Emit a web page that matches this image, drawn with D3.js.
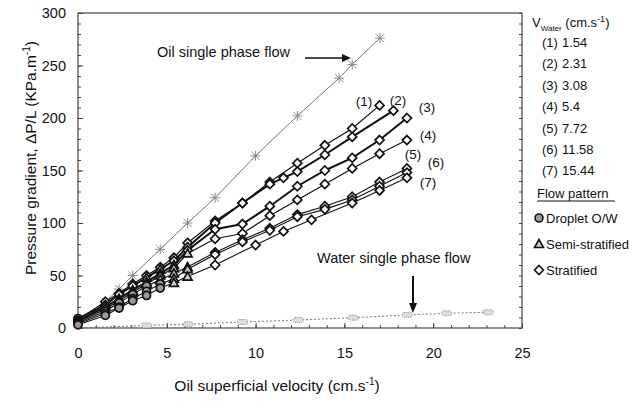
<!DOCTYPE html>
<html><head><meta charset="utf-8">
<script src="https://cdn.jsdelivr.net/npm/d3@7"></script>
<style>
body{margin:0;background:#fff;}
svg{font-family:"Liberation Sans",Arial,sans-serif;}
</style></head>
<body><svg id="chart" width="643" height="401"></svg>
<script>
// ---------- data ----------
const waterVelocities = ["1.54","2.31","3.08","5.4","7.72","11.58","15.44"];
const seriesLabels = ["(1)","(2)","(3)","(4)","(5)","(6)","(7)"];
// oil superficial velocity (cm/s) for each series
const s1x = [0,1.54,2.31,3.08,3.86,4.63,5.4,6.17,7.72,9.26,10.8,12.35,13.9,15.44,16.98];
const s1y = [8,25,33,42,50,58,67,81,102,119,139,157,174,190,212];
const s1p = ["c","d","d","d","d","d","d","d","d","d","d","d","d","d","d"];
const s2x = [0,1.54,2.31,3.08,3.86,4.63,5.4,6.17,7.72,9.26,10.8,11.57,12.35,13.9,15.44,17.76];
const s2y = [9,22,32,40,48,56,64,77,100,119,137,143,149,165,182,207];
const s2p = ["c","d","d","d","t","t","d","d","d","d","d","d","d","d","d","d"];
const s3x = [0,1.54,2.31,3.08,3.86,4.63,5.4,6.17,7.72,9.26,10.8,12.35,13.9,15.44,16.98,18.52];
const s3y = [7,20,28,36,44,52,60,74,94,99,116,135,150,162,179,200];
const s3p = ["c","d","t","t","t","t","t","d","d","d","d","d","d","d","d","d"];
const s4x = [0,1.54,2.31,3.08,3.86,4.63,5.4,6.17,7.72,9.26,10.8,12.35,13.9,15.44,16.98,18.52];
const s4y = [6,18,26,34,42,50,57,71,85,90,107,122,137,152,166,179];
const s4p = ["c","d","t","t","t","t","t","t","d","d","d","d","d","d","d","d"];
const s5x = [0,1.54,2.31,3.08,3.86,4.63,5.4,6.17,7.72,9.26,10.8,12.35,13.9,15.44,16.98,18.52];
const s5y = [5,16,24,32,40,46,52,58,72,84,95,108,116,125,139,152];
const s5p = ["c","c","c","c","c","t","t","t","d","d","d","d","d","d","d","d"];
const s6x = [0,1.54,2.31,3.08,3.86,4.63,5.4,6.17,7.72,9.26,10.8,12.35,13.9,15.44,16.98,18.52];
const s6y = [4,14,20,28,35,42,47,56,70,82,93,106,113,122,135,148];
const s6p = ["c","c","c","c","c","c","t","t","d","d","d","d","d","d","d","d"];
const s7x = [0,1.54,2.31,3.08,3.86,4.63,5.4,6.17,7.72,10.0,11.57,13.15,15.44,16.98,18.52];
const s7y = [3,12,19,26,31,38,43,49,60,79,92,103,119,131,143];
const s7p = ["c","c","c","c","c","c","t","t","d","d","d","d","d","d","d"];
// single phase reference lines
const oilX = [0,1.54,2.31,3.08,4.63,6.17,7.72,10.0,12.35,14.7,15.44,17.0];
const oilY = [2,25,37,50,75,100,124,164,202,238,251,276];
const waterX = [0,3.87,6.2,9.27,12.4,15.5,18.54,20.76,23.1];
const waterY = [0,2.5,3.5,5.7,7.6,9.8,12.4,14,15];
const xTicks = [0,5,10,15,20,25];
const yTicks = [0,50,100,150,200,250,300];
const patternNames = ["Droplet O/W","Semi-stratified","Stratified"];

const seriesX=[s1x,s2x,s3x,s4x,s5x,s6x,s7x];
const seriesY=[s1y,s2y,s3y,s4y,s5y,s6y,s7y];
const seriesP=[s1p,s2p,s3p,s4p,s5p,s6p,s7p];
const seriesW=[1.2,2,2,1.2,1.1,1.1,1.1];

// ---------- layout ----------
const svg=d3.select("#chart");
const L=78,R=522,T=13,B=328;
const x=d3.scaleLinear().domain([0,25]).range([L,R]);
const y=d3.scaleLinear().domain([0,300]).range([B,T]);

svg.append("rect").attr("x",L).attr("y",T).attr("width",R-L).attr("height",B-T)
  .attr("fill","none").attr("stroke","#444").attr("stroke-width",1.2);

const gx=svg.append("g").attr("transform",`translate(0,${B})`)
  .call(d3.axisBottom(x).tickValues(d3.range(0,26,1)).tickSize(-3).tickFormat(""));
const gxm=svg.append("g").attr("transform",`translate(0,${B})`)
  .call(d3.axisBottom(x).tickValues(xTicks).tickSize(-5).tickPadding(20).tickFormat(d3.format("d")));
const gy=svg.append("g").attr("transform",`translate(${L},0)`)
  .call(d3.axisLeft(y).tickValues(d3.range(0,301,10)).tickSize(-3).tickFormat(""));
const gym=svg.append("g").attr("transform",`translate(${L},0)`)
  .call(d3.axisLeft(y).tickValues(yTicks).tickSize(-5).tickPadding(12).tickFormat(d3.format("d")));
const gyr=svg.append("g").attr("transform",`translate(${R},0)`)
  .call(d3.axisRight(y).tickValues(d3.range(0,301,10)).tickSize(-3).tickFormat(""));
[gx,gxm,gy,gym,gyr].forEach(g=>{
  g.select(".domain").remove();
  g.selectAll("line").attr("stroke","#444");
  g.selectAll("text").attr("font-size",14.5).attr("fill","#111").attr("font-family","Liberation Sans, Arial, sans-serif");
});

svg.append("text").attr("x",277).attr("y",391).attr("text-anchor","middle").attr("font-size",15.5).attr("fill","#111")
  .html('Oil superficial velocity (cm.s<tspan dy="-6" font-size="10">-1</tspan><tspan dy="6">)</tspan>');
svg.append("text").attr("transform","translate(36,158) rotate(-90)").attr("text-anchor","middle").attr("font-size",15.5).attr("fill","#111")
  .html('Pressure gradient, ΔP/L (KPa.m<tspan dy="-6" font-size="10">-1</tspan><tspan dy="6">)</tspan>');

// water single phase line
const line=d3.line().x(d=>x(d[0])).y(d=>y(d[1]));
const wData=waterX.map((v,i)=>[v,waterY[i]]);
svg.append("path").attr("d",line(wData)).attr("fill","none").attr("stroke","#777").attr("stroke-width",1).attr("stroke-dasharray","2,2");
svg.append("g").selectAll("rect").data(wData.slice(1)).join("rect")
  .attr("x",d=>x(d[0])-5).attr("y",d=>y(d[1])-2.5).attr("width",10).attr("height",5).attr("rx",2)
  .attr("fill","#ddd").attr("stroke","#777").attr("stroke-width",0.8).attr("stroke-dasharray","1,1");

// oil single phase line
const oData=oilX.map((v,i)=>[v,oilY[i]]);
svg.append("path").attr("d",line(oData)).attr("fill","none").attr("stroke","#777").attr("stroke-width",1);
const star=svg.append("g").selectAll("g").data(oData.slice(1)).join("g")
  .attr("transform",d=>`translate(${x(d[0])},${y(d[1])})`);
star.append("path").attr("d","M-4,-4L4,4M-4,4L4,-4M0,-5L0,5M-5,0L5,0").attr("stroke","#888").attr("stroke-width",1);

// marker shapes
const sym={c:()=>"M4,0A4,4 0 1,1 -4,0A4,4 0 1,1 4,0Z",
           t:()=>"M0,-4.5L4.5,3.5L-4.5,3.5Z",
           d:()=>"M0,-4.5L4.5,0L0,4.5L-4.5,0Z"};
const fillOf=p=>p==="c"?"#999":(p==="t"?"#ccc":"#fff");
seriesX.forEach((xs,si)=>{
  const pts=xs.map((v,i)=>({x:v,y:seriesY[si][i],p:seriesP[si][i]}));
  svg.append("path").attr("d",d3.line().x(d=>x(d.x)).y(d=>y(d.y))(pts))
    .attr("fill","none").attr("stroke","#111").attr("stroke-width",seriesW[si]);
  svg.append("g").selectAll("path").data(pts).join("path")
    .attr("transform",d=>`translate(${x(d.x)},${y(d.y)})`)
    .attr("d",d=>sym[d.p]())
    .attr("fill",d=>fillOf(d.p))
    .attr("stroke","#111").attr("stroke-width",1.7);
});

const lblPos=[[364,106],[398,105],[427,112],[428,140],[413,159],[436,167],[428,187]];
seriesLabels.forEach((t,i)=>svg.append("text").attr("x",lblPos[i][0]).attr("y",lblPos[i][1])
  .attr("text-anchor","middle").attr("font-size",13.5).attr("fill","#111").text(t));

svg.append("text").attr("x",157).attr("y",57).attr("font-size",14.5).attr("fill","#111").text("Oil single phase flow");
svg.append("line").attr("x1",305).attr("y1",58).attr("x2",344).attr("y2",58).attr("stroke","#111").attr("stroke-width",1.5);
svg.append("path").attr("d","M351,58L342,54L342,62Z").attr("fill","#111");
svg.append("text").attr("x",317).attr("y",263).attr("font-size",14.5).attr("fill","#111").text("Water single phase flow");
svg.append("line").attr("x1",413).attr("y1",276).attr("x2",413).attr("y2",305).attr("stroke","#111").attr("stroke-width",2);
svg.append("path").attr("d","M413,313L409,303L417,303Z").attr("fill","#111");

// legend
const lg=svg.append("g");
lg.append("text").attr("x",532).attr("y",27).attr("font-size",13).attr("fill","#111")
  .html('V<tspan dy="4" font-size="8">Water</tspan><tspan dy="-4"> (cm.s</tspan><tspan dy="-5" font-size="9">-1</tspan><tspan dy="5">)</tspan>');
waterVelocities.forEach((v,i)=>{
  lg.append("text").attr("x",542).attr("y",47+i*21.4).attr("font-size",13).attr("fill","#111").text(seriesLabels[i]);
  lg.append("text").attr("x",562).attr("y",47+i*21.4).attr("font-size",13).attr("fill","#111").text(v);
});
lg.append("text").attr("x",537).attr("y",198).attr("font-size",13).attr("fill","#111").text("Flow  pattern");
lg.append("line").attr("x1",537).attr("x2",615).attr("y1",201).attr("y2",201).attr("stroke","#111").attr("stroke-width",1);
["c","t","d"].forEach((p,i)=>{
  const yy=218+i*26;
  lg.append("path").attr("transform",`translate(539,${yy})`).attr("d",sym[p]())
    .attr("fill",fillOf(p)).attr("stroke","#111").attr("stroke-width",1.6);
  lg.append("text").attr("x",546).attr("y",yy+4.5).attr("font-size",13).attr("fill","#111").text(patternNames[i]);
});
</script></body></html>
